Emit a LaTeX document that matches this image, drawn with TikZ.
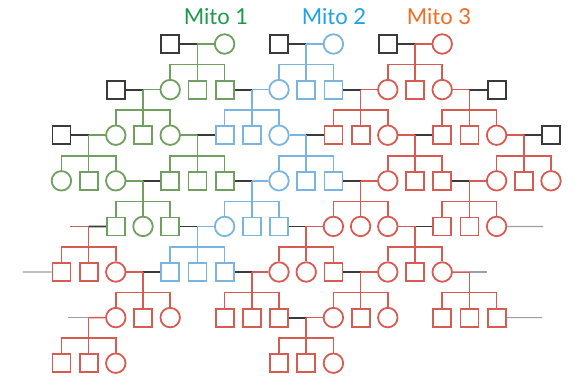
\documentclass[tikz,border=0pt]{standalone}
\usepackage{fontspec}
\setmainfont{Lato}
\definecolor{mg}{RGB}{112,160,96}
\definecolor{mb}{RGB}{122,180,224}
\definecolor{mr}{RGB}{214,92,82}
\definecolor{mk}{RGB}{58,58,58}
\definecolor{tg}{RGB}{28,154,76}
\definecolor{tb}{RGB}{28,164,222}
\definecolor{tr}{RGB}{242,108,34}
\tikzset{
  sym/.style={draw, line width=1.8pt, inner sep=0pt},
  sqsym/.style={sym, rectangle, minimum size=18pt},
  cisym/.style={sym, circle, minimum size=19.5pt},
  hline/.style={draw=mk, line width=1.8pt},
  wline/.style={line width=1.5pt},
  stubline/.style={draw=gray!75, line width=1.2pt},
  mito/.style={font=\fontsize{22}{24}\selectfont, inner sep=0pt}
}
\newcommand\Sq[3]{\node[sqsym,draw=#3] (n-#1-#2) at ({7+27.2*#2},{44+45.6*#1}) {};}
\newcommand\Ci[3]{\node[cisym,draw=#3] (n-#1-#2) at ({7+27.2*#2},{44+45.6*#1}) {};}
\newcommand\Kids[3]{%
  \pgfmathtruncatemacro\kr{#1+1}%
  \pgfmathtruncatemacro\ka{#2-1}%
  \pgfmathtruncatemacro\kb{#2+1}%
  \coordinate (b-#1-#2) at ({7+27.2*#2},{44+45.6*\kr-25});
  \draw[wline,#3] (m-#1-#2) -- (n-\kr-#2.north);
  \draw[wline,#3] (n-\kr-\ka.north) |- (b-#1-#2) -| (n-\kr-\kb.north);
}
\newcommand\Marry[5]{%
  \coordinate (m-#1-#4) at ({7+27.2*#4},{44+45.6*#1});
  \draw[hline] (n-#1-#2) -- (m-#1-#4);
  \draw[wline,#5] (m-#1-#4) -- (n-#1-#3);
  \Kids{#1}{#4}{#5}
}
\begin{document}
\begin{tikzpicture}[x=1pt,y=-1pt]
\fill[white] (0,0) rectangle (582,384);
\path[use as bounding box] (0,0) rectangle (582,384);
% labels
\node[mito,text=tg] (t1) at (216,17) {Mito 1};
\node[mito,text=tb] (t2) at (334,17) {Mito 2};
\node[mito,text=tr] (t3) at (439,17) {Mito 3};
% row 0
\Sq{0}{6}{mk} \Ci{0}{8}{mg} \Sq{0}{10}{mk} \Ci{0}{12}{mb} \Sq{0}{14}{mk} \Ci{0}{16}{mr}
% row 1
\Sq{1}{4}{mk} \Ci{1}{6}{mg} \Sq{1}{7}{mg} \Sq{1}{8}{mg} \Ci{1}{10}{mb} \Sq{1}{11}{mb} \Sq{1}{12}{mb}
\Ci{1}{14}{mr} \Sq{1}{15}{mr} \Ci{1}{16}{mr} \Sq{1}{18}{mk}
% row 2
\Sq{2}{2}{mk} \Ci{2}{4}{mg} \Sq{2}{5}{mg} \Ci{2}{6}{mg} \Sq{2}{8}{mb} \Sq{2}{9}{mb} \Ci{2}{10}{mb}
\Sq{2}{12}{mr} \Sq{2}{13}{mr} \Ci{2}{14}{mr} \Sq{2}{16}{mr} \Sq{2}{17}{mr} \Ci{2}{18}{mr} \Sq{2}{20}{mk}
% row 3
\Ci{3}{2}{mg} \Sq{3}{3}{mg} \Ci{3}{4}{mg} \Sq{3}{6}{mg} \Sq{3}{7}{mg} \Sq{3}{8}{mg} \Ci{3}{10}{mb}
\Sq{3}{11}{mb} \Sq{3}{12}{mb} \Ci{3}{14}{mr} \Sq{3}{15}{mr} \Sq{3}{16}{mr} \Ci{3}{18}{mr} \Sq{3}{19}{mr} \Ci{3}{20}{mr}
% row 4
\Sq{4}{4}{mg} \Ci{4}{5}{mg} \Sq{4}{6}{mg} \Ci{4}{8}{mb} \Sq{4}{9}{mb} \Sq{4}{10}{mb} \Ci{4}{12}{mr}
\Ci{4}{13}{mr} \Ci{4}{14}{mr} \Sq{4}{16}{mr} \Sq{4}{17}{mr} \Ci{4}{18}{mr}
% row 5
\Sq{5}{2}{mr} \Sq{5}{3}{mr} \Ci{5}{4}{mr} \Sq{5}{6}{mb} \Sq{5}{7}{mb} \Sq{5}{8}{mb} \Ci{5}{10}{mr}
\Ci{5}{11}{mr} \Sq{5}{12}{mr} \Ci{5}{14}{mr} \Sq{5}{15}{mr} \Ci{5}{16}{mr}
% row 6
\Ci{6}{4}{mr} \Sq{6}{5}{mr} \Ci{6}{6}{mr} \Sq{6}{8}{mr} \Sq{6}{9}{mr} \Sq{6}{10}{mr} \Ci{6}{12}{mr}
\Sq{6}{13}{mr} \Ci{6}{14}{mr} \Sq{6}{16}{mr} \Sq{6}{17}{mr} \Sq{6}{18}{mr}
% row 7
\Sq{7}{2}{mr} \Sq{7}{3}{mr} \Ci{7}{4}{mr} \Sq{7}{10}{mr} \Sq{7}{11}{mr} \Ci{7}{12}{mr}
% marriages and children
\Marry{0}{6}{8}{7}{mg} \Marry{0}{10}{12}{11}{mb} \Marry{0}{14}{16}{15}{mr}
\Marry{1}{4}{6}{5}{mg} \Marry{1}{8}{10}{9}{mb} \Marry{1}{12}{14}{13}{mr} \Marry{1}{18}{16}{17}{mr}
\Marry{2}{2}{4}{3}{mg} \Marry{2}{8}{6}{7}{mg} \Marry{2}{12}{10}{11}{mb} \Marry{2}{16}{14}{15}{mr} \Marry{2}{20}{18}{19}{mr}
\Marry{3}{6}{4}{5}{mg} \Marry{3}{8}{10}{9}{mb} \Marry{3}{12}{14}{13}{mr} \Marry{3}{16}{18}{17}{mr}
% row 4
\coordinate (s-4l) at (70,226.4);
\coordinate (m-4-3) at ({7+27.2*3},226.4);
\draw[wline,mr!70!gray] (s-4l) -- (m-4-3);
\draw[hline] (n-4-4) -- (m-4-3);
\Kids{4}{3}{mr}
\Marry{4}{6}{8}{7}{mb} \Marry{4}{10}{12}{11}{mr} \Marry{4}{16}{14}{15}{mr}
\coordinate (s-4r) at (543,226.4);
\draw[stubline] (n-4-18) -- (s-4r);
% row 5
\coordinate (s-5l) at (23,272);
\draw[stubline] (s-5l) -- (n-5-2);
\Marry{5}{6}{4}{5}{mr} \Marry{5}{8}{10}{9}{mr} \Marry{5}{12}{14}{13}{mr}
\coordinate (m-5-17) at ({7+27.2*17},272);
\coordinate (s-5r) at (487,272);
\draw[wline,mr] (n-5-16) -- (m-5-17);
\draw[stubline] (m-5-17) -- (s-5r);
\Kids{5}{17}{mr}
% row 6
\coordinate (s-6l) at (68,317.6);
\coordinate (m-6-3) at ({7+27.2*3},317.6);
\draw[stubline] (s-6l) -- (m-6-3);
\draw[wline,mr] (m-6-3) -- (n-6-4);
\Kids{6}{3}{mr}
\Marry{6}{10}{12}{11}{mr}
\coordinate (s-6r) at (542,317.6);
\draw[stubline] (n-6-18) -- (s-6r);
\end{tikzpicture}
\end{document}
